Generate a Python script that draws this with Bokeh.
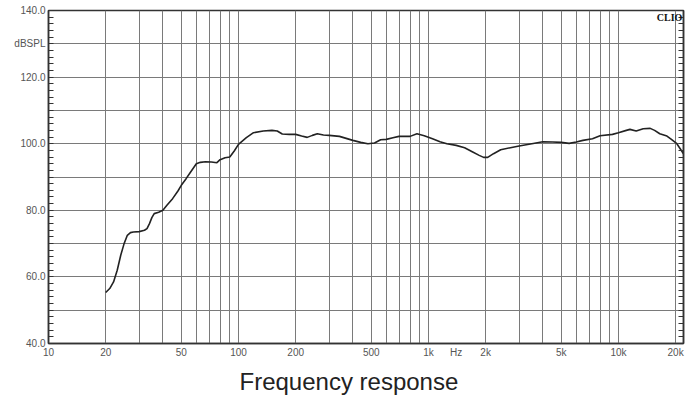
from bokeh.plotting import figure
from bokeh.models import (FixedTicker, LinearAxis, Range1d, Label, Title, ColumnDataSource)
from bokeh.embed import file_html
from bokeh.resources import INLINE

freq = [20, 21, 22, 23, 24, 25, 26, 27, 28, 30, 32, 33, 34, 35, 36, 38, 40, 42, 45, 48,
        50, 53, 56, 60, 63, 67, 72, 77, 80, 85, 90, 95, 100, 110, 120, 135, 150, 160, 170,
        185, 200, 215, 230, 245, 260, 280, 300, 340, 400, 440, 480, 520, 560, 600, 650,
        700, 800, 870, 950, 1050, 1150, 1250, 1400, 1550, 1700, 1850, 1950, 2050, 2200,
        2400, 2700, 3000, 3500, 4000, 4500, 5000, 5500, 6000, 6500, 7300, 8000, 9300,
        10000, 11000, 11500, 12400, 13500, 14700, 15500, 16500, 18000, 19000, 20300, 22000]
spl = [55.3, 56.5, 58.5, 62.0, 66.5, 70.0, 72.5, 73.3, 73.5, 73.6, 74.0, 74.5, 76.0, 77.8,
       79.0, 79.4, 80.0, 81.5, 83.5, 85.8, 87.5, 89.5, 91.5, 94.0, 94.4, 94.6, 94.5, 94.3,
       95.2, 95.8, 96.0, 97.8, 99.8, 101.8, 103.3, 103.8, 104.0, 103.8, 102.9, 102.8, 102.8,
       102.3, 101.9, 102.5, 103.0, 102.6, 102.5, 102.2, 101.0, 100.4, 100.0, 100.2, 101.2,
       101.3, 101.8, 102.2, 102.2, 103.0, 102.4, 101.5, 100.6, 100.0, 99.5, 98.8, 97.6,
       96.5, 95.9, 95.9, 97.0, 98.2, 98.8, 99.3, 100.0, 100.6, 100.5, 100.4, 100.1, 100.5,
       101.0, 101.5, 102.4, 102.8, 103.3, 104.0, 104.3, 103.8, 104.5, 104.6, 104.0, 103.0,
       102.3, 101.3, 100.0, 97.0]

x_ticks = [10, 20, 50, 100, 200, 500, 1000, 1400, 2000, 5000, 10000, 20000]
x_tick_labels = ["10", "20", "50", "100", "200", "500", "1k", "Hz", "2k", "5k", "10k", "20k"]
x_grid = [10, 20, 30, 40, 50, 60, 70, 80, 90, 100, 200, 300, 400, 500, 600, 700, 800, 900,
          1000, 2000, 3000, 4000, 5000, 6000, 7000, 8000, 9000, 10000, 20000]
y_ticks = [40, 60, 80, 100, 120, 130, 140]
y_tick_labels = ["40.0", "60.0", "80.0", "100.0", "120.0", "dBSPL", "140.0"]
y_grid = [50, 60, 70, 80, 90, 100, 110, 120, 130]
y_minor = list(range(40, 141, 2))

FONT = "Liberation Sans"
GRID = "#7a7a7a"
AX = "#333333"

p = figure(width=690, height=399, x_axis_type="log", output_backend="svg",
           toolbar_location=None, x_range=Range1d(10, 22000), y_range=Range1d(40, 140),
           min_border_left=48, min_border_right=7, min_border_top=10, min_border_bottom=0)

src = ColumnDataSource(dict(f=freq, db=spl))
p.line("f", "db", source=src, line_color="#222222", line_width=1.6)

p.xaxis.ticker = FixedTicker(ticks=x_ticks)
p.xaxis.major_label_overrides = {t: l for t, l in zip(x_ticks, x_tick_labels)}
p.xaxis.major_tick_in = 0
p.xaxis.major_tick_out = 0
p.xaxis.minor_tick_in = 0
p.xaxis.minor_tick_out = 0
p.xaxis.axis_line_color = AX
p.xaxis.axis_line_width = 1.5
p.xaxis.major_label_text_font = FONT
p.xaxis.major_label_text_font_size = "10px"
p.xaxis.major_label_text_color = "#555555"
p.xaxis.major_label_standoff = 3

p.yaxis.ticker = FixedTicker(ticks=y_ticks, minor_ticks=y_minor)
p.yaxis.major_label_overrides = {t: l for t, l in zip(y_ticks, y_tick_labels)}
p.yaxis.major_tick_in = 0
p.yaxis.major_tick_out = 0
p.yaxis.minor_tick_in = 5
p.yaxis.minor_tick_out = 0
p.yaxis.minor_tick_line_color = AX
p.yaxis.axis_line_color = AX
p.yaxis.axis_line_width = 1.5
p.yaxis.major_label_text_font = FONT
p.yaxis.major_label_text_font_size = "10px"
p.yaxis.major_label_text_color = "#555555"
p.yaxis.major_label_standoff = 3

right = LinearAxis(ticker=FixedTicker(ticks=y_ticks, minor_ticks=y_minor))
right.major_label_overrides = {t: "" for t in y_ticks}
right.major_tick_in = 0
right.major_tick_out = 0
right.minor_tick_in = 5
right.minor_tick_out = 0
right.minor_tick_line_color = AX
right.axis_line_color = AX
right.axis_line_width = 1.5
right.major_label_standoff = 0
p.add_layout(right, "right")

p.xgrid.ticker = FixedTicker(ticks=x_grid)
p.ygrid.ticker = FixedTicker(ticks=y_grid)
p.grid.grid_line_color = GRID
p.grid.grid_line_width = 1

p.outline_line_color = AX
p.outline_line_width = 1.5

p.add_layout(Label(x=21700, y=139.4, text="CLIO", text_font="Liberation Serif",
                   text_font_style="bold", text_font_size="10px", text_align="right",
                   text_baseline="top", text_color="#111111"))

title = Title(text="Frequency response", text_font=FONT, text_font_size="24px",
              text_font_style="normal", text_color="#222222", align="left", offset=191,
              standoff=10)
p.add_layout(title, "below")

open("out.html", "w").write(file_html(p, INLINE))
